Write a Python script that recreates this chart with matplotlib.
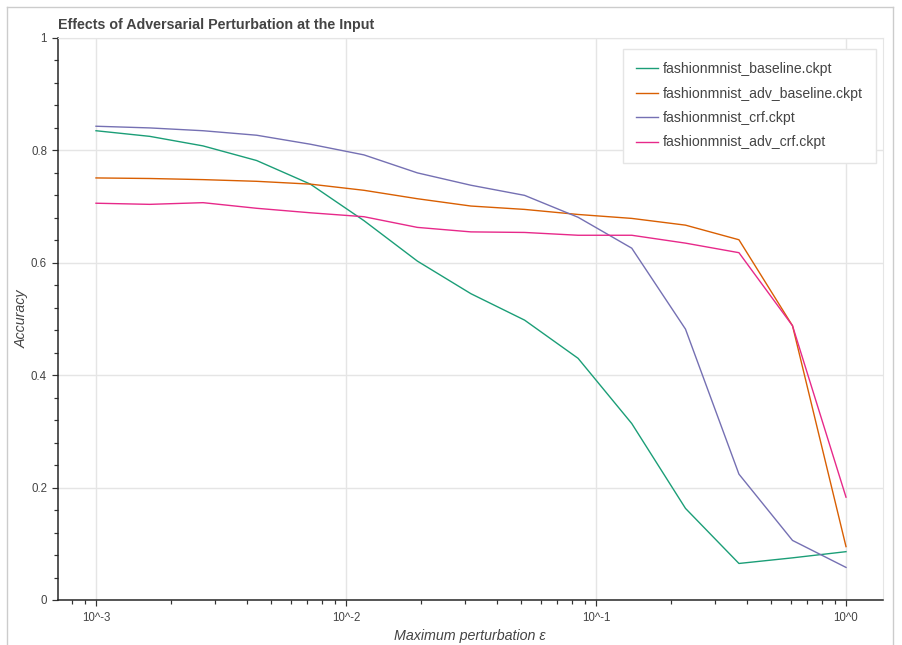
import numpy as np
import matplotlib
matplotlib.use('Agg')
from matplotlib import pyplot as plt
from matplotlib.lines import Line2D
from matplotlib.ticker import FixedLocator, LogLocator, NullFormatter, MultipleLocator

plt.rcParams['font.family'] = ['Liberation Sans', 'DejaVu Sans']

# perturbation levels (15 log-spaced steps from 1e-3 to 1)
eps = [0.001, 0.00164, 0.00268, 0.00439, 0.0072, 0.0118, 0.0193, 0.0316,
       0.0518, 0.0848, 0.139, 0.228, 0.373, 0.611, 1.0]

acc_baseline = [0.835, 0.825, 0.808, 0.782, 0.740, 0.675, 0.603, 0.545,
                0.498, 0.430, 0.314, 0.163, 0.065, 0.075, 0.086]
acc_adv_baseline = [0.751, 0.750, 0.748, 0.745, 0.740, 0.729, 0.714, 0.701,
                    0.695, 0.686, 0.679, 0.667, 0.641, 0.488, 0.095]
acc_crf = [0.843, 0.840, 0.835, 0.827, 0.811, 0.792, 0.760, 0.738,
           0.720, 0.681, 0.626, 0.482, 0.224, 0.106, 0.058]
acc_adv_crf = [0.706, 0.704, 0.707, 0.697, 0.689, 0.682, 0.663, 0.655,
               0.654, 0.649, 0.649, 0.635, 0.618, 0.488, 0.183]

labels = ['fashionmnist_baseline.ckpt', 'fashionmnist_adv_baseline.ckpt',
          'fashionmnist_crf.ckpt', 'fashionmnist_adv_crf.ckpt']
colors = ['#1b9e77', '#d95f02', '#7570b3', '#e7298a']
series = [acc_baseline, acc_adv_baseline, acc_crf, acc_adv_crf]

x_ticks = [1e-3, 1e-2, 1e-1, 1e0]
x_ticklabels = ['10^-3', '10^-2', '10^-1', '10^0']

W, H = 902, 645
PX = 0.72  # one pixel in points at dpi 100
fig = plt.figure(figsize=(W / 100, H / 100), dpi=100)
ax = fig.add_axes([58 / W, 45 / H, (883 - 58) / W, (600 - 38) / H])

for y, c, lab in zip(series, colors, labels):
    ax.plot(eps, y, color=c, linewidth=1.0, label=lab)

ax.set_xscale('log')
ax.set_xlim(10 ** -3.152, 10 ** 0.148)
ax.set_ylim(0, 1)

ax.xaxis.set_major_locator(FixedLocator(x_ticks))
ax.set_xticklabels(x_ticklabels)
ax.xaxis.set_minor_locator(LogLocator(base=10, subs=np.arange(2, 10)))
ax.xaxis.set_minor_formatter(NullFormatter())
ax.yaxis.set_minor_locator(MultipleLocator(0.04))
ax.set_yticks([0, 0.2, 0.4, 0.6, 0.8, 1.0])
ax.set_yticklabels(['0', '0.2', '0.4', '0.6', '0.8', '1'])

ax.tick_params(which='major', direction='out', length=6 * PX, width=1.2 * PX, color='#333333',
               labelsize=8.3, labelcolor='#444444', pad=5 * PX)
ax.tick_params(which='minor', direction='out', length=4 * PX, width=1.2 * PX, color='#333333')
ax.tick_params(axis='x', which='major', pad=6 * PX)

ax.grid(which='major', color='#e5e5e5', linewidth=1)
ax.set_axisbelow(True)

for s in ['top', 'right']:
    ax.spines[s].set_color('#e5e5e5')
for s in ['left', 'bottom']:
    ax.spines[s].set_color('#222222')
    ax.spines[s].set_linewidth(1.5 * PX)

ax.set_xlabel('Maximum perturbation ε', fontsize=10.3, style='italic', color='#444444')
ax.set_ylabel('Accuracy', fontsize=10.3, style='italic', color='#444444')
ax.xaxis.set_label_coords((470 - 58) / (883 - 58), -(636 - 600) / (600 - 38), transform=ax.transAxes)
ax.yaxis.set_label_coords(-(58 - 22) / (883 - 58), 0.5, transform=ax.transAxes)
ax.xaxis.label.set_va('center')
ax.yaxis.label.set_va('center')

fig.text(58 / W, 1 - 25 / H, 'Effects of Adversarial Perturbation at the Input',
         fontsize=10.3, fontweight='bold', color='#444444', ha='left', va='center')

leg = ax.legend(loc='upper left', bbox_to_anchor=(623 / W, 1 - 49 / H), bbox_transform=fig.transFigure,
                fontsize=10.1, frameon=True, fancybox=False, framealpha=1, edgecolor='#e5e5e5',
                handlelength=1.55, handletextpad=0.35, labelspacing=0.74, borderpad=0.95,
                borderaxespad=0)
leg.get_frame().set_linewidth(1)
for t in leg.get_texts():
    t.set_color('#444444')

# outer frame of the screenshot
fc = '#cccccc'
fig.add_artist(Line2D([7 / W, 7 / W], [0, 1 - 7 / H], color=fc, linewidth=1, transform=fig.transFigure))
fig.add_artist(Line2D([7 / W, 893 / W], [1 - 7 / H, 1 - 7 / H], color=fc, linewidth=1, transform=fig.transFigure))
fig.add_artist(Line2D([893 / W, 893 / W], [0, 1 - 7 / H], color=fc, linewidth=1, transform=fig.transFigure))

plt.savefig('out.png', dpi=100)
plt.close()
